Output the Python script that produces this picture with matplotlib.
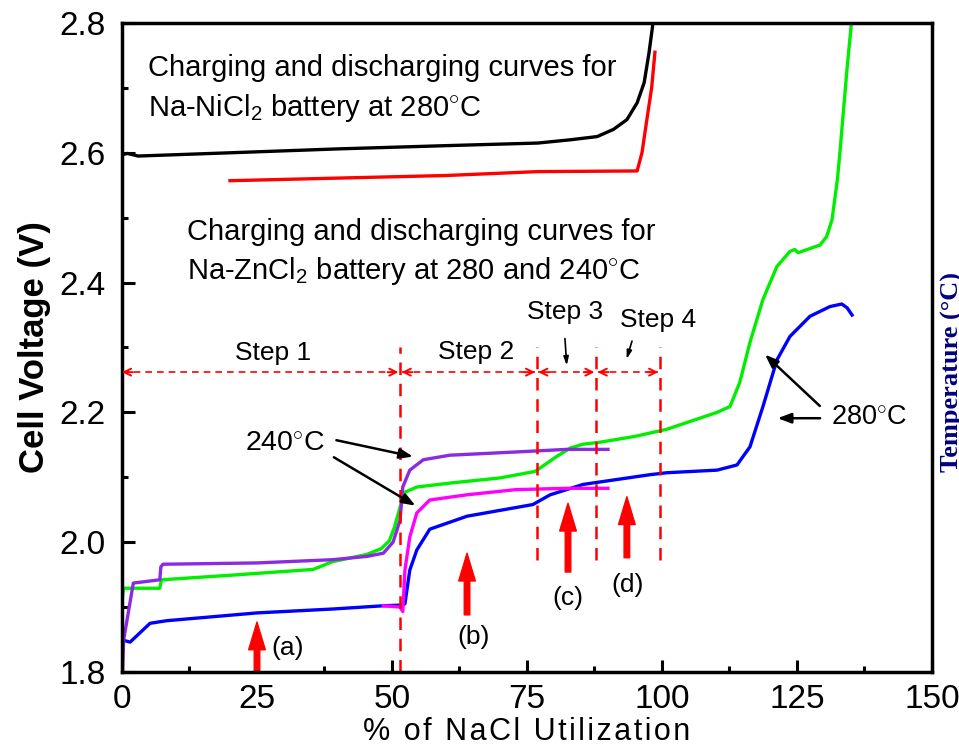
import matplotlib
matplotlib.use('Agg')
import matplotlib.pyplot as plt
from matplotlib.ticker import MultipleLocator

plt.rcParams['font.family'] = ['Liberation Sans', 'DejaVu Sans']
plt.rcParams['mathtext.fontset'] = 'custom'
plt.rcParams['mathtext.rm'] = 'Liberation Sans'
plt.rcParams['mathtext.it'] = 'Liberation Sans:italic'
plt.rcParams['mathtext.bf'] = 'Liberation Sans:bold'

# Na-NiCl2 at 280 C
ni_chg_x = [0, 1, 3, 20, 40, 60, 77, 83, 88, 91, 93.5, 95.4, 96.7, 97.6, 98.5]
ni_chg_y = [2.597, 2.599, 2.595, 2.600, 2.606, 2.611, 2.615, 2.620, 2.625, 2.636, 2.651, 2.677, 2.708, 2.754, 2.81]
ni_dis_x = [20, 40, 60, 77, 95.4, 96.3, 97.2, 98.1, 98.7]
ni_dis_y = [2.557, 2.561, 2.565, 2.571, 2.572, 2.600, 2.651, 2.701, 2.755]

# Na-ZnCl2, 280 C
zn280_a_x = [0.2, 1.5, 5.2, 8.3, 25, 39, 48.4, 51.5, 52.4, 53.3, 54.6, 57, 63.9, 76.1, 79.3, 85.4,
             97.8, 100.9, 110.2, 113.9, 116.3, 118.7, 121.3, 123.7, 127.4, 131.1, 133.3, 134.3, 135.2]
zn280_a_y = [1.849, 1.846, 1.875, 1.879, 1.891, 1.897, 1.902, 1.903, 1.905, 1.957, 1.988, 2.020, 2.040, 2.058, 2.073, 2.089,
             2.104, 2.107, 2.111, 2.119, 2.147, 2.209, 2.281, 2.317, 2.348, 2.363, 2.367, 2.361, 2.350]
zn280_b_x = [0, 0.3, 3, 7, 7.3, 20, 35.4, 39, 45.3, 48, 49.5, 50.5, 51.5, 52.4, 54.6, 60.7, 70, 76.5, 80.5, 83,
             85.4, 88.5, 95, 100.9, 110.2, 112.6, 114.4, 116.3, 118.7, 121.3, 123.7, 124.6, 125.2, 129.3, 130.5,
             131.5, 132.5, 133, 134.3, 135.2]
zn280_b_y = [1.911, 1.929, 1.929, 1.929, 1.942, 1.949, 1.958, 1.970, 1.981, 1.990, 2.002, 2.024, 2.054, 2.077, 2.085, 2.091,
             2.099, 2.109, 2.132, 2.145, 2.151, 2.154, 2.163, 2.174, 2.200, 2.209, 2.246, 2.308, 2.374, 2.425, 2.448,
             2.451, 2.446, 2.458, 2.471, 2.497, 2.560, 2.605, 2.732, 2.810]

# Na-ZnCl2, 240 C
zn240_a_x = [48.4, 51.5, 52, 52.4, 53.3, 54.6, 57, 63.9, 73, 82.4, 90]
zn240_a_y = [1.902, 1.900, 1.893, 1.957, 2.008, 2.045, 2.065, 2.073, 2.081, 2.083, 2.083]
zn240_b_x = [0.1, 0.3, 2.1, 7, 7.2, 7.6, 25, 39, 45.3, 48.4, 50.2, 51.5, 52, 53.3, 55.8, 60.7, 73, 82.4, 90]
zn240_b_y = [1.800, 1.849, 1.937, 1.942, 1.962, 1.966, 1.968, 1.973, 1.978, 1.983, 2.000, 2.034, 2.085, 2.111,
             2.127, 2.134, 2.139, 2.143, 2.143]

# step boundaries (% NaCl) and the level of the step arrows
step_bounds = [0, 51.5, 76.8, 87.8, 99.6]
step_y = 2.262
step_names = ['Step 1', 'Step 2', 'Step 3', 'Step 4']

# red arrows: x, bottom, tip, label
probe_x = [25, 63.9, 82.6, 93.5]
probe_lo = [1.80, 1.888, 1.954, 1.976]
probe_hi = [1.877, 1.983, 2.060, 2.070]
probe_lbl = ['(a)', '(b)', '(c)', '(d)']

fig = plt.figure(figsize=(9.59, 7.54), dpi=100)
ax = fig.add_axes([0.1272, 0.1088, 0.8446, 0.8607])

lw = 2.4
ax.plot(ni_chg_x, ni_chg_y, color='black', lw=lw)
ax.plot(ni_dis_x, ni_dis_y, color='#ff0000', lw=lw)
ax.plot(zn280_a_x, zn280_a_y, color='#0000ff', lw=lw)
ax.plot(zn280_b_x, zn280_b_y, color='#00ee00', lw=lw)
ax.plot(zn240_a_x, zn240_a_y, color='#ff00ff', lw=lw)
ax.plot(zn240_b_x, zn240_b_y, color='#8a2be2', lw=lw)

ax.set_xlim(0, 150)
ax.set_ylim(1.8, 2.8)
ax.xaxis.set_major_locator(MultipleLocator(25))
ax.xaxis.set_minor_locator(MultipleLocator(12.5))
ax.yaxis.set_major_locator(MultipleLocator(0.2))
ax.yaxis.set_minor_locator(MultipleLocator(0.1))
ax.yaxis.set_major_formatter(matplotlib.ticker.FormatStrFormatter('%.1f'))
ax.tick_params(which='major', direction='in', length=9, width=2.2, labelsize=24)
ax.tick_params(which='minor', direction='in', length=4.5, width=2.2)
ax.tick_params(axis='y', pad=12)
ax.tick_params(axis='x', pad=9)
for s in ax.spines.values():
    s.set_linewidth(2.5)

# Origin-style letter spacing on the x title
xlab = '\u200a'.join('% of NaCl Utilization')
ax.set_xlabel(xlab, fontsize=22, labelpad=1)
ax.set_ylabel('Cell Voltage (V)', fontsize=25, fontweight='bold', labelpad=6)

# dashed step boundaries
ax.plot([step_bounds[1]] * 2, [1.80, 2.30], color='red', lw=1.8, ls=(0, (5, 3.5)))
for xb in step_bounds[2:]:
    ax.plot([xb, xb], [1.973, 2.30], color='red', lw=1.8, ls=(0, (5, 3.5)))

# double-headed dashed arrows for each step
for i in range(4):
    x0 = step_bounds[i] + (0.3 if i else 0)
    x1 = step_bounds[i + 1] - 0.3
    ax.plot([x0, x1], [step_y, step_y], color='red', lw=1.2, ls=(0, (4, 3)))
    for a, b in [(x0 + 2, x0), (x1 - 2, x1)]:
        ax.annotate('', xy=(b, step_y), xytext=(a, step_y),
                    arrowprops=dict(arrowstyle='->,head_length=0.5,head_width=0.25',
                                    color='red', lw=1.4, shrinkA=0, shrinkB=0))

ax.text(28.0, 2.292, step_names[0], fontsize=19, ha='center', va='center')
ax.text(65.6, 2.293, step_names[1], fontsize=19, ha='center', va='center')
ax.text(82.0, 2.355, step_names[2], fontsize=19, ha='center', va='center')
ax.text(99.3, 2.342, step_names[3], fontsize=19, ha='center', va='center')
ax.annotate('', xy=(82.4, 2.268), xytext=(82.0, 2.318),
            arrowprops=dict(arrowstyle='-|>,head_length=0.5,head_width=0.15', color='black', lw=1.2))
ax.annotate('', xy=(93.3, 2.278), xytext=(94.6, 2.314),
            arrowprops=dict(arrowstyle='-|>,head_length=0.5,head_width=0.15', color='black', lw=1.2))

# red up-arrows marking the sampling points
for px, lo, hi, lbl in zip(probe_x, probe_lo, probe_hi, probe_lbl):
    ax.annotate('', xy=(px, hi), xytext=(px, lo), zorder=2,
                arrowprops=dict(arrowstyle='simple,head_length=1.0,head_width=0.6,tail_width=0.2',
                                color='red', mutation_scale=20, shrinkA=0, shrinkB=0))
ax.text(30.7, 1.837, probe_lbl[0], fontsize=19, ha='center', va='center')
ax.text(65.2, 1.854, probe_lbl[1], fontsize=19, ha='center', va='center')
ax.text(82.6, 1.914, probe_lbl[2], fontsize=19, ha='center', va='center')
ax.text(93.7, 1.934, probe_lbl[3], fontsize=19, ha='center', va='center')

# temperature call-outs
ax.text(30.2, 2.151, r'240$^{\circ}$C', fontsize=20.5, ha='center', va='center')
blk = dict(arrowstyle='-|>,head_length=0.8,head_width=0.3', color='black', lw=1.8)
ax.annotate('', xy=(54.4, 2.131), xytext=(39.2, 2.158), arrowprops=blk)
ax.annotate('', xy=(54.8, 2.054), xytext=(38.8, 2.133), arrowprops=blk)
ax.text(138.3, 2.191, r'280$^{\circ}$C', fontsize=19.5, ha='center', va='center')
ax.annotate('', xy=(118.7, 2.292), xytext=(129.6, 2.207), arrowprops=blk)
ax.annotate('', xy=(120.9, 2.191), xytext=(129.8, 2.191), arrowprops=blk)

ax.text(4.8, 2.731, 'Charging and discharging curves for', fontsize=21, va='center')
ax.text(4.8, 2.669, r'Na-NiCl$_2$ battery at 280$^{\circ}$C', fontsize=21, va='center')
ax.text(12.0, 2.478, 'Charging and discharging curves for', fontsize=21, va='center')
ax.text(12.0, 2.418, r'Na-ZnCl$_2$ battery at 280 and 240$^{\circ}$C', fontsize=21, va='center')

# second axis title, partly off the canvas
fig.text(941 / 959, (754 - 472) / 754, 'Temperature (°C)', rotation=90, ha='left', va='bottom',
         fontsize=19, fontweight='bold', color='#000080', family='Liberation Serif')

fig.savefig('out.png', dpi=100)
